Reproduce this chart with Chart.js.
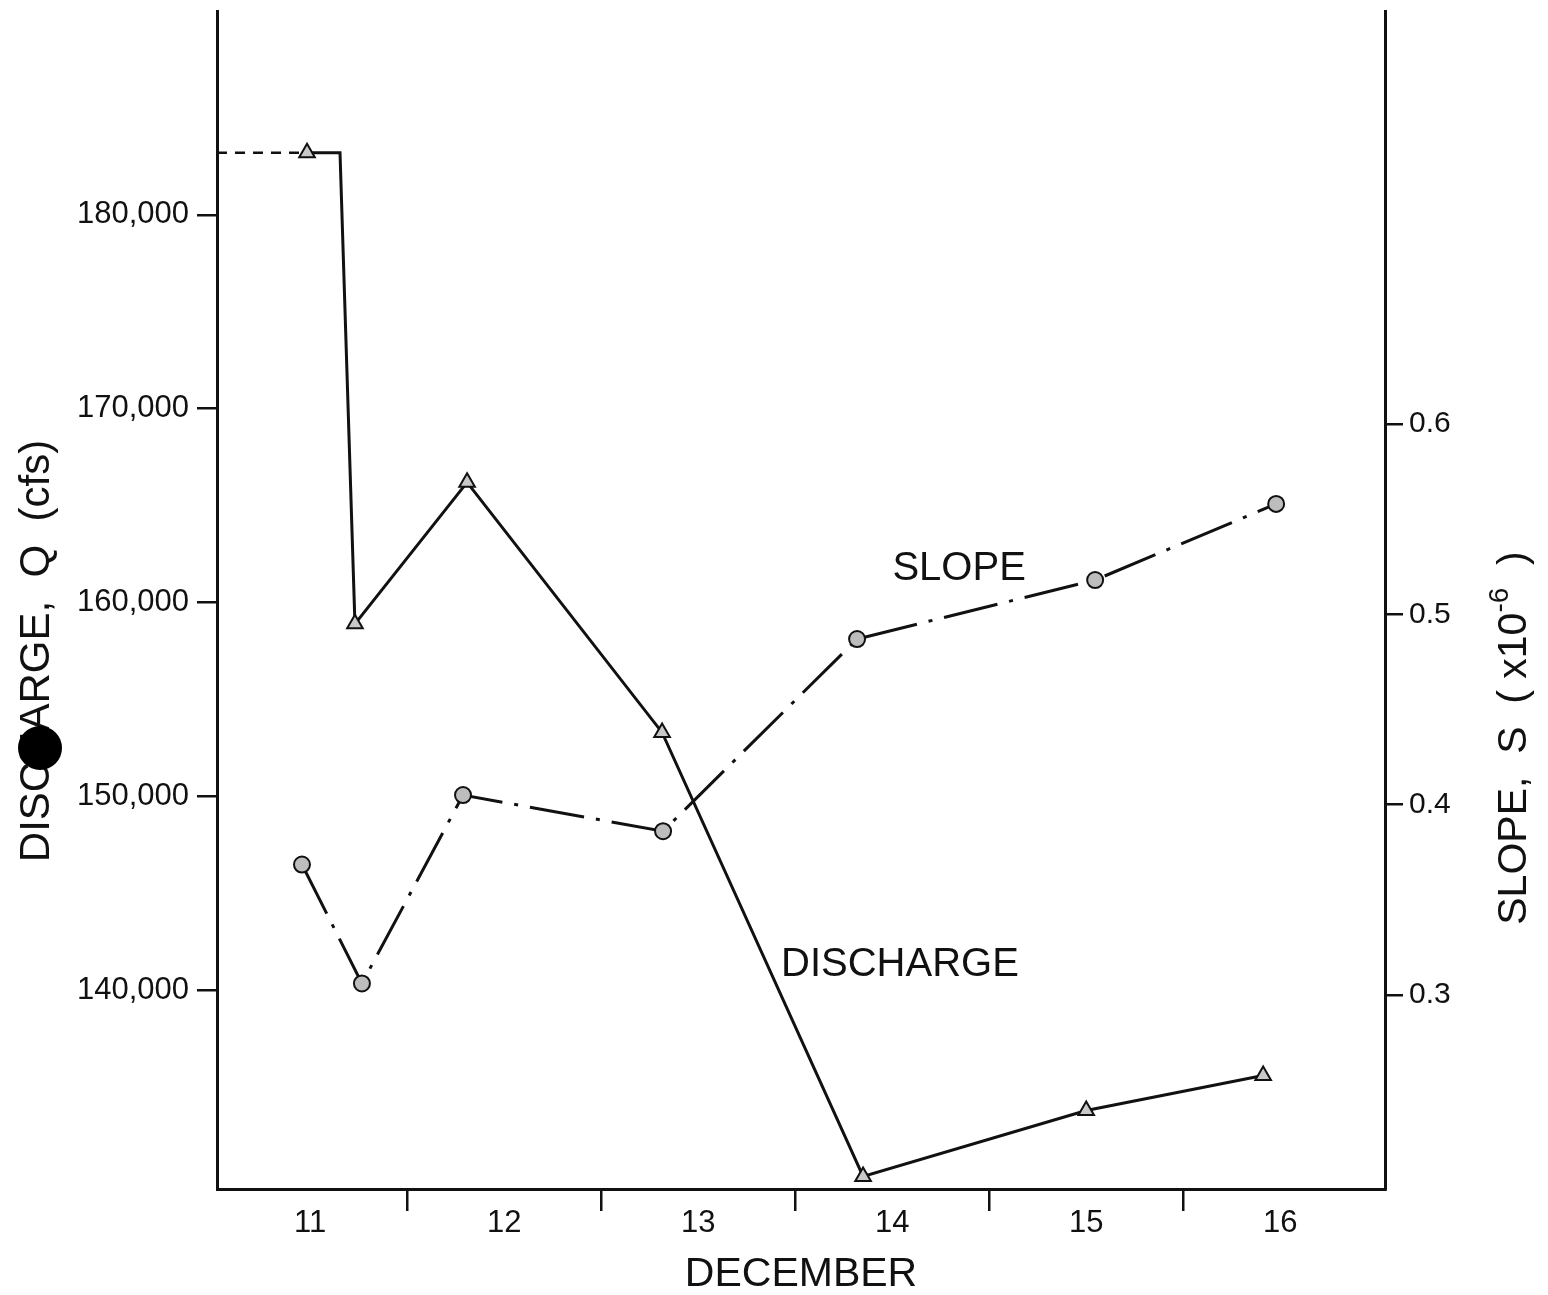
<!DOCTYPE html>
<html>
<head>
<meta charset="utf-8">
<script src="https://cdn.jsdelivr.net/npm/chart.js@4.4.1/dist/chart.umd.min.js"></script>
<style>
  html, body { margin: 0; padding: 0; background: #fff; }
  #wrap { width: 1548px; height: 1295px; }
</style>
</head>
<body>
<div id="wrap"><canvas id="flowChart"></canvas></div>
<script>
// days in December (fractional) and values
const dischargeDays = [10.984, 11.154, 11.231, 11.809, 12.814, 13.850, 15.000, 15.912];
const dischargeValues = [183200, 183200, 158900, 166200, 153300, 130400, 133800, 135600];
const dischargeMarked = [true, false, true, true, true, true, true, true];

// dashed lead-in before the first discharge point
const earlierDays = [10.52, 10.984];
const earlierValues = [183200, 183200];

const slopeDays = [10.958, 11.267, 11.788, 12.819, 13.819, 15.046, 15.979];
const slopeValues = [0.3685, 0.306, 0.405, 0.386, 0.487, 0.518, 0.558];

const dayLabels = [11, 12, 13, 14, 15, 16];
const dayBreaks = [11.5, 12.5, 13.5, 14.5, 15.5];
const dischargeTicks = [140000, 150000, 160000, 170000, 180000];
const slopeTicks = [0.3, 0.4, 0.5, 0.6];

const FONT = '"Liberation Sans", Arial, sans-serif';
const INK = '#111';

const toPoints = (xs, ys) => xs.map((x, i) => ({ x: x, y: ys[i] }));

// keep the plot box fixed: no extra room for half-labels at the ends
const noEndPadding = s => {
  s.paddingTop = 0; s.paddingBottom = 0;
  s.paddingLeft = 0; s.paddingRight = 0;
};

const textPlugin = {
  id: 'plotText',
  afterDraw(chart) {
    const { ctx, scales } = chart;
    ctx.save();
    ctx.fillStyle = INK;
    ctx.textAlign = 'center';
    ctx.textBaseline = 'middle';
    ctx.font = '40px ' + FONT;

    // curve labels
    ctx.fillText('SLOPE', scales.x.getPixelForValue(14.345), scales.y2.getPixelForValue(0.5236));
    ctx.fillText('DISCHARGE', scales.x.getPixelForValue(14.04), scales.y.getPixelForValue(141300));

    // left axis title
    ctx.save();
    ctx.translate(37, 651);
    ctx.rotate(-Math.PI / 2);
    ctx.font = '42px ' + FONT;
    ctx.fillText('DISCHARGE,  Q  (cfs)', 0, 0);
    ctx.restore();

    // right axis title, with superscript
    ctx.save();
    ctx.translate(1515, 738);
    ctx.rotate(-Math.PI / 2);
    const big = '41px ' + FONT, small = '28px ' + FONT;
    const parts = [['SLOPE,  S  ( x10', big, 0], ['-6', small, -15], ['  )', big, 0]];
    let total = 0;
    parts.forEach(p => { ctx.font = p[1]; total += ctx.measureText(p[0]).width; });
    let cx = -total / 2;
    ctx.textAlign = 'left';
    parts.forEach(p => {
      ctx.font = p[1];
      ctx.fillText(p[0], cx, p[2]);
      cx += ctx.measureText(p[0]).width;
    });
    ctx.restore();

    // punch hole on the scanned sheet
    ctx.beginPath();
    ctx.arc(40, 748, 22, 0, Math.PI * 2);
    ctx.fillStyle = '#000';
    ctx.fill();
    ctx.restore();
  }
};

new Chart(document.getElementById('flowChart'), {
  type: 'line',
  data: {
    datasets: [
      {
        label: 'Discharge',
        data: toPoints(dischargeDays, dischargeValues),
        yAxisID: 'y',
        borderColor: INK,
        borderWidth: 3,
        pointStyle: 'triangle',
        pointRadius: dischargeMarked.map(m => m ? 9 : 0),
        pointBackgroundColor: '#c9c9c9',
        pointBorderColor: INK,
        pointBorderWidth: 2,
        tension: 0
      },
      {
        label: 'Discharge (earlier)',
        data: toPoints(earlierDays, earlierValues),
        yAxisID: 'y',
        borderColor: INK,
        borderWidth: 2.5,
        borderDash: [10, 8],
        pointRadius: 0,
        tension: 0
      },
      {
        label: 'Slope',
        data: toPoints(slopeDays, slopeValues),
        yAxisID: 'y2',
        borderColor: INK,
        borderWidth: 3,
        borderDash: [55, 12, 4, 12],
        pointStyle: 'circle',
        pointRadius: 8,
        pointBackgroundColor: '#bdbdbd',
        pointBorderColor: INK,
        pointBorderWidth: 2,
        tension: 0
      }
    ]
  },
  options: {
    responsive: true,
    maintainAspectRatio: false,
    animation: false,
    layout: { padding: { top: 11, left: 0, right: 0, bottom: 0 } },
    plugins: {
      legend: { display: false },
      tooltip: { enabled: false }
    },
    scales: {
      x: {
        type: 'linear',
        min: 10.52,
        max: 16.54,
        afterBuildTicks: s => { s.ticks = dayLabels.concat(dayBreaks).sort((a, b) => a - b).map(v => ({ value: v })); },
        afterFit: s => { s.height = 106; noEndPadding(s); },
        border: { display: true, color: INK, width: 3 },
        grid: {
          drawOnChartArea: false,
          tickLength: 22,
          lineWidth: 2.5,
          color: c => (c.tick && !Number.isInteger(c.tick.value)) ? INK : 'rgba(0,0,0,0)'
        },
        ticks: {
          color: INK,
          font: { family: FONT, size: 31 },
          padding: -6,
          maxRotation: 0,
          autoSkip: false,
          callback: v => Number.isInteger(v) ? String(v) : ''
        },
        title: {
          display: true,
          text: 'DECEMBER',
          color: INK,
          font: { family: FONT, size: 41, lineHeight: 1 },
          padding: { top: 0, bottom: 0 }
        }
      },
      y: {
        type: 'linear',
        position: 'left',
        min: 129750,
        max: 190510,
        afterBuildTicks: s => { s.ticks = dischargeTicks.map(v => ({ value: v })); },
        afterFit: s => { s.width = 217; noEndPadding(s); },
        border: { display: true, color: INK, width: 3 },
        grid: { drawOnChartArea: false, tickLength: 20, lineWidth: 2.5, color: INK },
        ticks: {
          color: INK,
          font: { family: FONT, size: 31 },
          padding: 8,
          callback: v => v.toLocaleString('en-US')
        }
      },
      y2: {
        type: 'linear',
        position: 'right',
        min: 0.198,
        max: 0.817,
        afterBuildTicks: s => { s.ticks = slopeTicks.map(v => ({ value: v })); },
        afterFit: s => { s.width = 163; noEndPadding(s); },
        border: { display: true, color: INK, width: 3 },
        grid: { drawOnChartArea: false, tickLength: 18, lineWidth: 2.5, color: INK },
        ticks: {
          color: INK,
          font: { family: FONT, size: 30 },
          padding: 6,
          callback: v => v.toFixed(1)
        }
      }
    }
  },
  plugins: [textPlugin]
});
</script>
</body>
</html>
